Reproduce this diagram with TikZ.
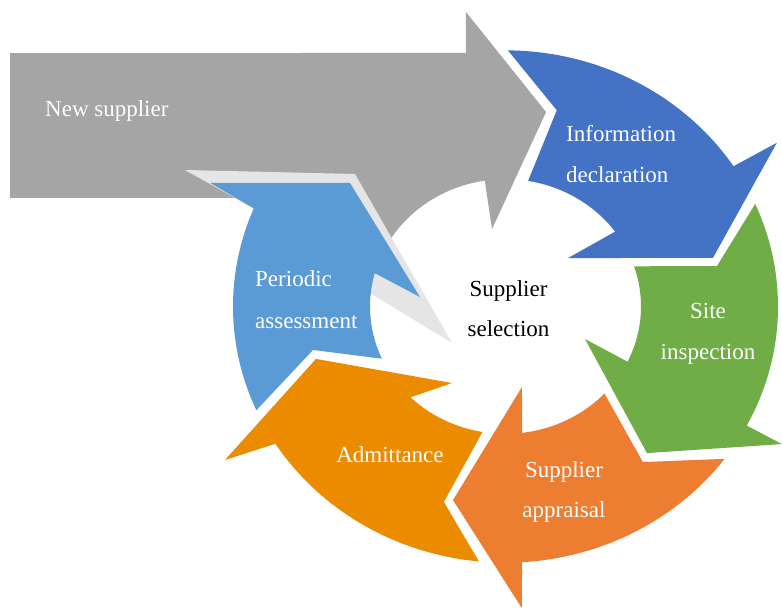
\documentclass[tikz,border=0pt]{standalone}
\usepackage{fontspec}
\setmainfont{Liberation Serif}
\definecolor{cgray}{HTML}{A5A5A5}
\definecolor{chalo}{HTML}{E5E5E5}
\definecolor{cinfo}{HTML}{4472C4}
\definecolor{csite}{HTML}{70AD47}
\definecolor{capp}{HTML}{ED7D31}
\definecolor{cadm}{HTML}{EB8C00}
\definecolor{cper}{HTML}{5B9BD5}
\begin{document}
\begin{tikzpicture}[x=1pt,y=-1pt,
  ring/.style={shift={(505.5,306.5)},yscale=-0.94},
  lbl/.style={text=white,inner sep=0pt,font=\fontsize{23}{28}\selectfont},
  ctr/.style={text=black,inner sep=0pt,font=\fontsize{23}{28}\selectfont}]
\useasboundingbox (0,0) rectangle (782,609);
\fill[white] (0,0) rectangle (782,609);
% New supplier (gray)
\fill[cgray] (10,53) rectangle (300,198);
\fill[cgray,ring] (-39.5,269.7) -- (97.2:315.8) -- (78.9:210.8) -- (99.3:83.5)
  -- (98.8:135.5) arc[start angle=98.8,end angle=168,radius=135.5]
  -- (-205.5,113.3) -- (-205.5,269.7) -- cycle;
% halo around periodic head
\fill[chalo] (253,208) -- (185,170) -- (355,174) -- (452,343) -- (370,293) -- cycle;
% Periodic assessment
\fill[cper,ring] (203.9:272.5) -- (193.5:198) -- (204.2:135.5)
  arc[start angle=204.2,end angle=164.8,radius=135.5]
  -- (173.3:86.1) -- (139.8:203.6) -- (156:323.4) -- (157.5:272.5)
  arc[start angle=157.5,end angle=203.9,radius=272.5] -- cycle;
% Information declaration
\fill[cinfo,ring] (89.5:272.5) -- (76.2:215) -- (80.4:135.5)
  arc[start angle=80.4,end angle=36,radius=135.5]
  -- (39.5:81) -- (14:213.8) -- (32.7:322.5) -- (33.2:272.5)
  arc[start angle=33.2,end angle=89.5,radius=272.5] -- cycle;
% Site inspection
\fill[csite,ring] (18.4:135.5) -- (11.5:215.8) -- (23.6:272.5)
  arc[start angle=23.6,end angle=-27.7,radius=272.5]
  -- (-27.9:312.8) -- (-47.8:210.5) -- (-23.5:86.7) -- (-25.7:135.5)
  arc[start angle=-25.7,end angle=18.4,radius=135.5] -- cycle;
% Supplier appraisal
\fill[capp,ring] (-36.5:272.5) -- (-50.3:215.1) -- (-43.1:135.5)
  arc[start angle=-43.1,end angle=-83,radius=135.5]
  -- (-79.1:87.2) -- (-104.3:212.5) -- (-87.1:321.1) -- (-86.5:272.5)
  arc[start angle=-86.5,end angle=-36.5,radius=272.5] -- cycle;
% Admittance approval
\fill[cadm,ring] (264.4:272.5) -- (253.5:216.9) -- (260.2:135.5)
  arc[start angle=260.2,end angle=225.5,radius=135.5]
  -- (236.7:97.4) -- (196.4:197.6) -- (210.2:324.6) -- (212.4:272.5)
  arc[start angle=212.4,end angle=264.4,radius=272.5] -- cycle;
% labels
\node[lbl,anchor=base west] (ns) at (45,117) {New supplier};
\node[lbl,anchor=base west] (id1) at (566,142) {Information};
\node[lbl,anchor=base west] (id2) at (566,183) {declaration};
\node[lbl,anchor=base] (si1) at (708,319) {Site};
\node[lbl,anchor=base] (si2) at (708,360) {inspection};
\node[lbl,anchor=base] (sa1) at (564,477) {Supplier};
\node[lbl,anchor=base] (sa2) at (564,517) {appraisal};
\node[lbl,anchor=base] (aa1) at (390,463) {Admittance};
\node[lbl,anchor=base west] (pa1) at (255,287) {Periodic};
\node[lbl,anchor=base west] (pa2) at (255,329) {assessment};
\node[ctr,anchor=base] (ss1) at (508.5,297) {Supplier};
\node[ctr,anchor=base] (ss2) at (508.5,337) {selection};
\end{tikzpicture}
\end{document}
